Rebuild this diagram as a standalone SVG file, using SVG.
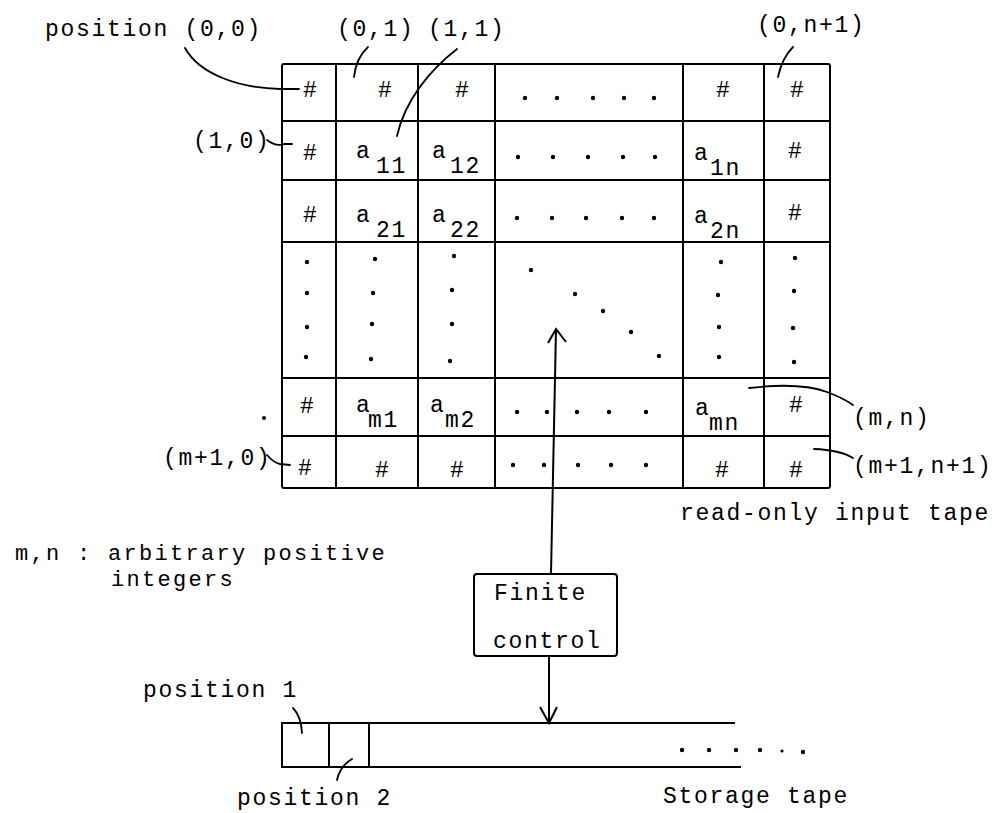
<svg xmlns="http://www.w3.org/2000/svg" width="1007" height="813" viewBox="0 0 1007 813">
<style>
.t{font-family:"Liberation Mono","DejaVu Sans Mono",monospace;font-size:23px;letter-spacing:1.7px;fill:#000}
.s{font-size:22px;letter-spacing:2.3px}
.h{font-family:"Liberation Mono","DejaVu Sans Mono",monospace;font-size:23px;fill:#000;text-anchor:middle}
.ln{stroke:#000;stroke-width:2;fill:none}
.ld{stroke:#000;stroke-width:1.8;fill:none;stroke-linecap:round}
.d{fill:#000}
</style>
<rect width="1007" height="813" fill="#fff"/>
<g id="input-tape">
<rect x="282" y="64" width="548" height="424" class="ln" rx="2"/>
<path class="ln" d="M336,64V488M418,64V488M495,64V488M683,64V488M764,64V488M282,121H830M282,180H830M282,242H830M282,378H830M282,436H830"/>
<g id="row0">
<text class="h" x="310" y="97">#</text><text class="h" x="385" y="97">#</text><text class="h" x="462" y="97">#</text>
<circle class="d" cx="525" cy="98" r="2.2"/><circle class="d" cx="557" cy="98" r="2.2"/><circle class="d" cx="593" cy="98" r="2.2"/><circle class="d" cx="624" cy="98" r="2.2"/><circle class="d" cx="654" cy="98" r="2.2"/>
<text class="h" x="723" y="97">#</text><text class="h" x="797" y="97">#</text>
</g>
<g id="row1">
<text class="h" x="310" y="160">#</text>
<text class="t" x="356" y="158">a</text><text class="t" x="376" y="173">11</text>
<text class="t" x="432" y="158">a</text><text class="t" x="450" y="173">12</text>
<circle class="d" cx="518" cy="157" r="2.2"/><circle class="d" cx="553" cy="157" r="2.2"/><circle class="d" cx="588" cy="157" r="2.2"/><circle class="d" cx="623" cy="157" r="2.2"/><circle class="d" cx="655" cy="157" r="2.2"/>
<text class="t" x="694" y="160">a</text><text class="t" x="710" y="175">1n</text>
<text class="h" x="795" y="158">#</text>
</g>
<g id="row2">
<text class="h" x="310" y="222">#</text>
<text class="t" x="356" y="222">a</text><text class="t" x="376" y="237">21</text>
<text class="t" x="432" y="222">a</text><text class="t" x="450" y="237">22</text>
<circle class="d" cx="517" cy="218" r="2.2"/><circle class="d" cx="552" cy="218" r="2.2"/><circle class="d" cx="586" cy="218" r="2.2"/><circle class="d" cx="622" cy="218" r="2.2"/><circle class="d" cx="654" cy="218" r="2.2"/>
<text class="t" x="694" y="223">a</text><text class="t" x="710" y="238">2n</text>
<text class="h" x="795" y="220">#</text>
</g>
<g id="row-dots">
<circle class="d" cx="307" cy="262" r="2.2"/><circle class="d" cx="307" cy="293" r="2.2"/><circle class="d" cx="307" cy="327" r="2.2"/><circle class="d" cx="306" cy="357" r="2.2"/>
<circle class="d" cx="375" cy="259" r="2.2"/><circle class="d" cx="373" cy="293" r="2.2"/><circle class="d" cx="372" cy="324" r="2.2"/><circle class="d" cx="371" cy="359" r="2.2"/>
<circle class="d" cx="454" cy="256" r="2.2"/><circle class="d" cx="452" cy="290" r="2.2"/><circle class="d" cx="452" cy="324" r="2.2"/><circle class="d" cx="450" cy="361" r="2.2"/>
<circle class="d" cx="531" cy="270" r="2.2"/><circle class="d" cx="575" cy="294" r="2.2"/><circle class="d" cx="603" cy="311" r="2.2"/><circle class="d" cx="631" cy="332" r="2.2"/><circle class="d" cx="659" cy="356" r="2.2"/>
<circle class="d" cx="721" cy="262" r="2.2"/><circle class="d" cx="718" cy="295" r="2.2"/><circle class="d" cx="719" cy="327" r="2.2"/><circle class="d" cx="719" cy="357" r="2.2"/>
<circle class="d" cx="795" cy="258" r="2.2"/><circle class="d" cx="794" cy="291" r="2.2"/><circle class="d" cx="793" cy="328" r="2.2"/><circle class="d" cx="794" cy="362" r="2.2"/>
</g>
<g id="row-m">
<text class="h" x="307" y="413">#</text>
<text class="t" x="356" y="412">a</text><text class="t" x="368" y="427">m1</text>
<text class="t" x="430" y="412">a</text><text class="t" x="445" y="427">m2</text>
<circle class="d" cx="517" cy="412" r="2.2"/><circle class="d" cx="547" cy="412" r="2.2"/><circle class="d" cx="577" cy="412" r="2.2"/><circle class="d" cx="609" cy="412" r="2.2"/><circle class="d" cx="646" cy="412" r="2.2"/>
<text class="t" x="695" y="415">a</text><text class="t" x="709" y="430">mn</text>
<text class="h" x="796" y="412">#</text>
</g>
<g id="row-m1">
<text class="h" x="305" y="475">#</text><text class="h" x="382" y="477">#</text><text class="h" x="457" y="477">#</text>
<circle class="d" cx="513" cy="465" r="2.2"/><circle class="d" cx="544" cy="465" r="2.2"/><circle class="d" cx="578" cy="465" r="2.2"/><circle class="d" cx="611" cy="465" r="2.2"/><circle class="d" cx="646" cy="465" r="2.2"/>
<text class="h" x="722" y="477">#</text><text class="h" x="796" y="477">#</text>
</g>
</g>
<g id="finite-control">
<rect x="474" y="574" width="143" height="82" rx="3" class="ln"/>
<text class="t" x="494" y="600">Finite</text>
<text class="t" x="493" y="648">control</text>
</g>
<g id="storage-tape">
<path class="ln" d="M735,723H282V767H741M329,723V767M369,723V767"/>
<circle class="d" cx="682" cy="750" r="2.2"/><circle class="d" cx="709" cy="750" r="2.2"/><circle class="d" cx="736" cy="750" r="2.2"/><circle class="d" cx="760" cy="750" r="2.2"/><circle class="d" cx="782" cy="751" r="1.6"/><circle class="d" cx="803" cy="752" r="2.2"/>
</g>
<g id="labels">
<text class="t" x="45" y="36">position (0,0)</text>
<text class="t" x="337" y="36">(0,1)</text>
<text class="t" x="428" y="36">(1,1)</text>
<text class="t" x="757" y="32">(0,n+1)</text>
<text class="t" x="193" y="148">(1,0)</text>
<text class="t" x="163" y="465">(m+1,0)</text>
<text class="t" x="853" y="425">(m,n)</text>
<text class="t" x="853" y="473">(m+1,n+1)</text>
<text class="t" x="680" y="520">read-only input tape</text>
<text class="t s" x="15" y="560">m,n : arbitrary positive</text>
<text class="t s" x="111" y="586">integers</text>
<text class="t" x="143" y="697">position 1</text>
<text class="t" x="237" y="805">position 2</text>
<text class="t" x="663" y="803">Storage tape</text>
<circle class="d" cx="264" cy="418" r="2"/>
</g>
<g id="connectors">
<path class="ld" d="M185,48C200,75 240,88 280,89L299,89"/>
<path class="ld" d="M368,47Q356,58 354,77"/>
<path class="ld" d="M457,49C430,70 405,100 397,136"/>
<path class="ld" d="M793,47Q782,58 778,77"/>
<path class="ld" d="M267,140Q276,147 284,144L292,144"/>
<path class="ld" d="M749,388Q800,382 827,392Q843,398 853,405"/>
<path class="ld" d="M814,449Q840,450 853,458"/>
<path class="ld" d="M267,455Q274,463 280,464L290,465"/>
<path class="ld" d="M293,708Q301,716 302,733"/>
<path class="ld" d="M352,759Q340,766 337,780"/>
<path class="ln" d="M551,574L556,329M548,343L556,329L566,342"/>
<path class="ln" d="M549,656V723M540,707L549,723L557,707"/>
</g>
</svg>
